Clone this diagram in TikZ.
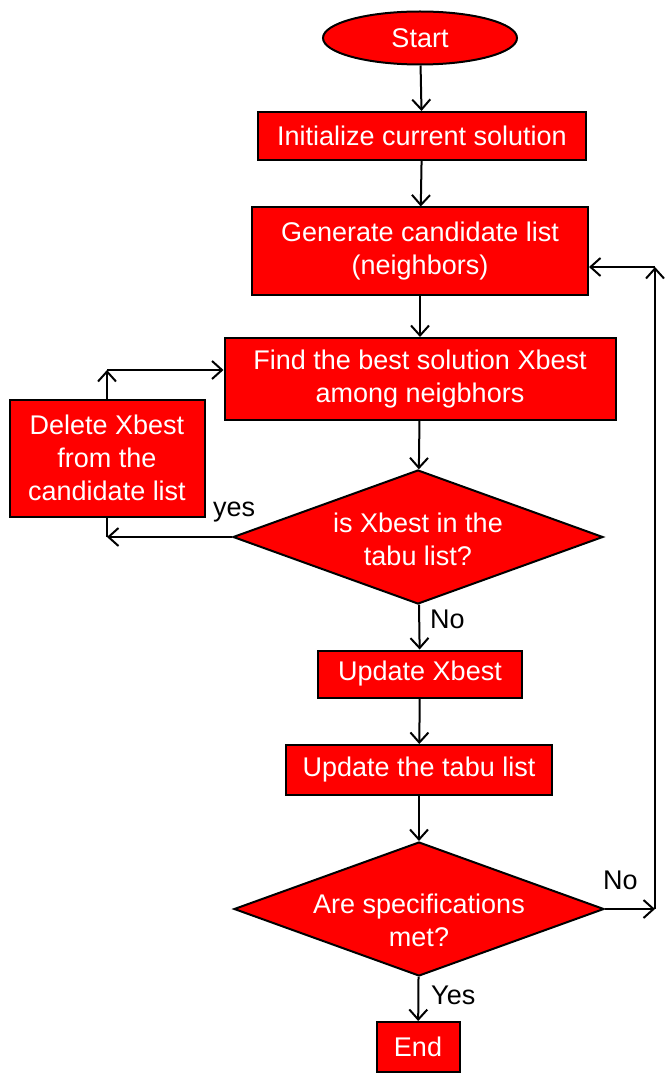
\documentclass[tikz,border=0pt]{standalone}
\usepackage{fontspec}
\setmainfont{Liberation Sans}
\usetikzlibrary{arrows.meta,positioning,shapes.geometric}
\definecolor{fire}{RGB}{255,0,0}
\definecolor{ink}{RGB}{0,0,0}
\tikzset{
  >={Straight Barb[length=10pt,width=18pt]},
  box/.style={draw=ink,fill=fire,line width=2pt,text=white,inner sep=0pt,
    align=center,font=\fontsize{27}{33}\selectfont},
  start/.style={box,ellipse},
  decision/.style={box,diamond,minimum width=370pt,minimum height=134pt},
  dtext/.style={text=white,align=center,font=\fontsize{27}{33}\selectfont},
  flow/.style={->,line width=2pt,draw=ink},
  tag/.style={font=\fontsize{27}{30}\selectfont,text=ink,inner sep=0pt},
}
\begin{document}
\begin{tikzpicture}[x=1pt,y=-1pt]
  \useasboundingbox (0,0) rectangle (666,1083);
  % main column
  \node[start,minimum width=194pt,minimum height=53pt] (st) at (420,38) {Start};
  \node[box,minimum width=328pt,minimum height=48pt] (init) at (422,136) {Initialize current solution};
  \node[box,minimum width=336pt,minimum height=87pt] (gen) at (420,251) {Generate candidate list\\(neighbors)};
  \node[box,minimum width=391pt,minimum height=82pt] (find) at (420,379) {Find the best solution Xbest\\among neigbhors};
  \node[box,minimum width=195pt,minimum height=117pt] (del) at (107,458) {Delete Xbest\\from the\\candidate list};
  \node[decision] (d1) at (418,537) {};
  \node[dtext] (d1t) at (418,539) {is Xbest in the\\tabu list?};
  \node[box,minimum width=204pt,minimum height=47pt] (upd) at (420,674) {Update Xbest};
  \node[box,minimum width=266pt,minimum height=50pt] (tabu) at (419,770) {Update the tabu list};
  \node[decision] (d2) at (419,909) {};
  \node[dtext] (d2t) at (419,920) {Are specifications\\met?};
  \node[box,minimum width=83pt,minimum height=50pt] (end) at (418,1047) {End};
  % loop corners
  \coordinate (lb) at (107,537);
  \coordinate (lt) at (107,370);
  \coordinate (rb) at (655,909);
  \coordinate (rt) at (655,267);
  % connectors
  \draw[flow] (st) -- (init);
  \draw[flow] (init) -- (gen);
  \draw[flow] (gen) -- (find);
  \draw[flow] (find) -- (d1);
  \draw[flow] (d1) -- (upd);
  \draw[flow] (upd) -- (tabu);
  \draw[flow] (tabu) -- (d2);
  \draw[flow] (d2) -- (end);
  \draw[flow] (d1.west) -- (lb);
  \draw[line width=2pt] (lb) -- (del.south);
  \draw[flow] (del.north) -- (lt);
  \draw[flow] (lt) -- (lt -| find.west);
  \draw[flow] (d2.east) -- (rb);
  \draw[flow] (rb) -- (rt);
  \draw[flow] (rt) -- (rt -| gen.east);
  % labels
  \node[tag,anchor=west] (yes1) at (213,512) {yes};
  \node[tag,anchor=west] (no1) at (430,619) {No};
  \node[tag,anchor=west] (no2) at (603,880) {No};
  \node[tag,anchor=west] (yes2) at (431,995) {Yes};
\end{tikzpicture}
\end{document}
